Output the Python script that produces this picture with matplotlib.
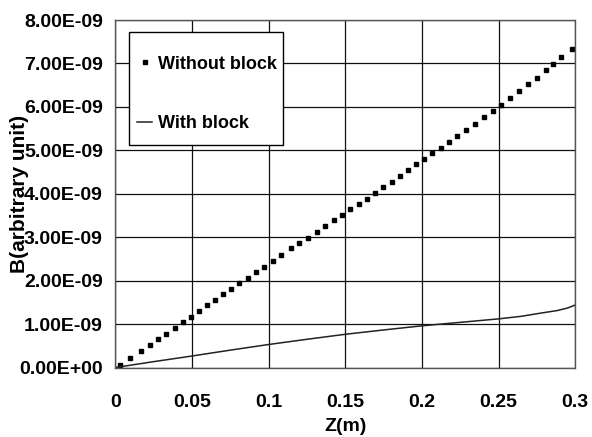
import matplotlib
matplotlib.use("Agg")
import matplotlib.pyplot as plt
from matplotlib.patches import Rectangle
from matplotlib.ticker import FuncFormatter, FixedLocator

plt.rcParams['font.family'] = ['Liberation Sans', 'DejaVu Sans']
plt.rcParams['font.weight'] = 'bold'

# Without block (dotted markers)
z_without = [0.0031, 0.0096, 0.0166, 0.0224, 0.0280, 0.0333, 0.0387, 0.0440, 0.0492,
             0.0544, 0.0600, 0.0652, 0.0705, 0.0757, 0.0809, 0.0864, 0.0918, 0.0970,
             0.1027, 0.1079, 0.1144, 0.1200, 0.1257, 0.1315, 0.1370, 0.1424, 0.1479,
             0.1533, 0.1588, 0.1642, 0.1696, 0.1748, 0.1803, 0.1857, 0.1909, 0.1963,
             0.2016, 0.2068, 0.2121, 0.2177, 0.2231, 0.2288, 0.2344, 0.2403, 0.2462,
             0.2518, 0.2577, 0.2634, 0.2692, 0.2751, 0.2808, 0.2857, 0.2909, 0.2977]
b_without = [0.06, 0.23, 0.38, 0.52, 0.66, 0.78, 0.91, 1.04, 1.17,
             1.30, 1.43, 1.56, 1.69, 1.81, 1.94, 2.07, 2.20, 2.32,
             2.45, 2.59, 2.75, 2.86, 2.99, 3.13, 3.26, 3.40, 3.52,
             3.65, 3.76, 3.89, 4.02, 4.15, 4.28, 4.41, 4.54, 4.68,
             4.81, 4.94, 5.06, 5.19, 5.32, 5.47, 5.60, 5.76, 5.90,
             6.04, 6.20, 6.36, 6.52, 6.67, 6.84, 6.98, 7.14, 7.33]
b_without = [v * 1e-9 for v in b_without]

# With block (thin line)
z_with = [0.0, 0.025, 0.05, 0.075, 0.1, 0.125, 0.15, 0.175, 0.2, 0.225, 0.25,
          0.265, 0.277, 0.288, 0.295, 0.3]
b_with = [0.0, 0.135, 0.265, 0.40, 0.53, 0.65, 0.765, 0.865, 0.96, 1.04, 1.12,
          1.18, 1.25, 1.31, 1.37, 1.44]
b_with = [v * 1e-9 for v in b_with]

x_ticks = [0, 0.05, 0.1, 0.15, 0.2, 0.25, 0.3]
x_ticklabels = ['0', '0.05', '0.1', '0.15', '0.2', '0.25', '0.3']
y_ticks = [i * 1e-9 for i in range(9)]

fig = plt.figure(figsize=(5.92, 4.37), dpi=100)
ax = fig.add_axes([0.1948, 0.159, 0.7770, 0.7952])

ax.plot(z_without, b_without, linestyle='none', marker='s', markersize=3.4,
        color='black', label='Without block')
ax.plot(z_with, b_with, color='#222222', linewidth=1.1, label='With block')

ax.set_xlim(0, 0.3)
ax.set_ylim(0, 8e-9)
ax.xaxis.set_major_locator(FixedLocator(x_ticks))
ax.set_xticklabels(x_ticklabels)
ax.yaxis.set_major_locator(FixedLocator(y_ticks))
ax.yaxis.set_major_formatter(FuncFormatter(lambda v, p: f"{v:.2E}"))

ax.grid(True, color='#111111', linewidth=0.9)
ax.set_axisbelow(True)
for s in ax.spines.values():
    s.set_color('#555555')
    s.set_linewidth(1.0)
    s.set_linestyle((0, (1, 1)))

ax.tick_params(axis='both', length=0, labelsize=14, colors='black')
ax.tick_params(axis='y', pad=9)
ax.tick_params(axis='x', pad=19)

ax.set_xlabel('Z(m)', fontsize=14, fontweight='bold')
ax.xaxis.set_label_coords(0.5, -0.145)
ax.set_ylabel('B(arbitrary unit)', fontsize=15, fontweight='bold')
ax.yaxis.set_label_coords(-0.188, 0.5)

# legend box (drawn as a patch so its padding can match the original)
box = Rectangle((0.029, 0.639), 0.3357, 0.3256, transform=ax.transAxes,
                facecolor='white', edgecolor='black', linewidth=1.0, zorder=4)
ax.add_patch(box)

leg = ax.legend(loc='upper left', bbox_to_anchor=(0.0276, 0.9235), fontsize=13,
                numpoints=1, handlelength=0.85, handletextpad=0.33,
                labelspacing=2.35, borderpad=0.5, frameon=False,
                borderaxespad=0)
leg.set_zorder(5)

fig.savefig('out.png', dpi=100)
